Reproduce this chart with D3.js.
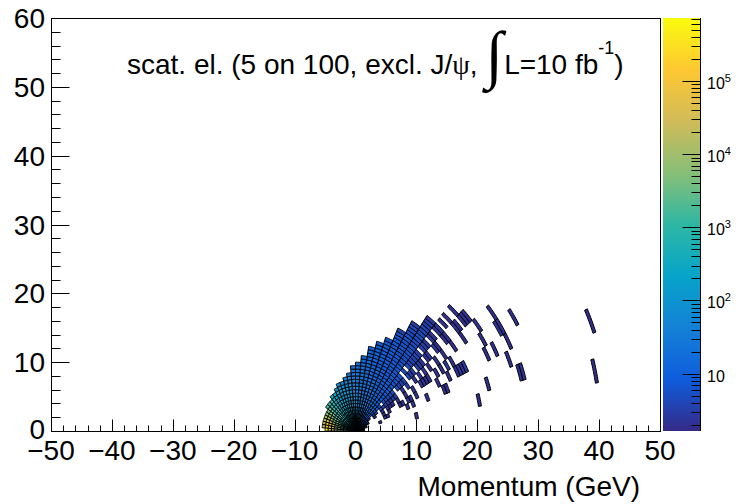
<!DOCTYPE html>
<html><head><meta charset="utf-8">
<script src="https://cdn.jsdelivr.net/npm/d3@7"></script>
<style>body{margin:0;background:#fff} svg{display:block}</style>
</head><body>
<svg id="chart" width="739" height="504"></svg>
<script>
// Scattered-electron momentum in polar form: bins of 5 deg in angle and 0.5 GeV in momentum
const thetaBinDeg = 5;
const pBinGeV = 0.5;
const _ = null;

// log10(counts) per momentum bin (index 0 = 0-0.5 GeV), one array per angle bin (index 0 = 0-5 deg)
const logCounts = [
  [1.2,1.0,0.8],
  [1.3,1.0,0.8],
  [1.3,1.1,0.9],
  [1.4,1.1,0.9,0.5],
  [1.4,1.2,1.0,0.6],
  [1.5,1.3,1.1,0.7,0.4],
  [1.6,1.4,1.2,0.8,0.5,_,_,0.4,_,_,0.4,_,0.4,0.35,0.3],
  [1.7,1.5,1.3,1.0,0.7,0.5,_,0.5,0.5,_,0.6,0.5,0.5,0.6,0.4,0.5,0.5,_,_,0.4,_,0.5,_,_,0.4,_,0.4,_,0.4,_,0.3],
  [1.8,1.6,1.4,1.2,0.9,0.7,0.8,0.9,0.9,0.8,0.8,_,0.8,0.7,0.8,0.7,0.7,_,0.7,0.6,0.6,0.6,_,0.6,0.5,0.5,_,0.5,0.5,0.4,_,0.4,0.4,_,_,0.4,0.3,_,_,0.3,0.3,_,_,_,0.3,0.3,_,0.3,0.3,0.3],
  [1.9,1.7,1.5,1.3,1.1,1.1,1.2,1.1,1.1,1.0,1.0,1.0,0.9,0.9,0.9,0.9,0.9,0.8,0.8,0.8,0.8,0.8,_,0.7,_,0.7,0.6,0.6,0.6,0.6,0.5,_,0.5,0.5,0.4,_,0.4,0.4,_,0.3,0.4,_,0.3,_,0.3,_,_,0.3],
  [2.0,1.8,1.6,1.5,1.4,1.3,1.3,1.2,1.2,1.2,1.1,1.1,1.1,1.0,1.0,1.0,1.0,1.0,0.9,0.9,0.9,0.9,0.9,0.9,0.8,0.8,0.8,0.8,0.8,0.8,0.8,0.7,0.7,0.7,0.7,0.7,0.6,0.6,0.5,0.5,0.4],
  [2.1,1.9,1.7,1.6,1.5,1.4,1.3,1.3,1.2,1.2,1.2,1.1,1.1,1.1,1.0,1.0,1.0,1.0,1.0,0.9,0.9,0.9,0.9,0.9,0.9,0.9,0.8,0.8,0.8,0.8,0.8,0.8,0.8,0.7,0.7,0.6,0.5],
  [2.2,2.0,1.8,1.7,1.6,1.5,1.4,1.4,1.3,1.3,1.2,1.2,1.2,1.1,1.1,1.1,1.1,1.0,1.0,1.0,1.0,1.0,1.0,0.9,0.9,0.9,0.9,0.9,0.9,0.9,0.8,0.8,0.6],
  [2.3,2.1,1.9,1.8,1.7,1.6,1.5,1.5,1.4,1.4,1.3,1.3,1.3,1.2,1.2,1.2,1.1,1.1,1.1,1.1,1.0,1.0,1.0,1.0,1.0,1.0,0.9,0.9,0.8],
  [2.4,2.2,2.0,1.9,1.8,1.7,1.6,1.6,1.5,1.5,1.4,1.4,1.3,1.3,1.3,1.2,1.2,1.2,1.2,1.1,1.1,1.1,1.1,1.1,1.0,1.0,0.9],
  [2.5,2.3,2.1,2.0,1.9,1.8,1.7,1.6,1.6,1.5,1.5,1.4,1.4,1.4,1.3,1.3,1.3,1.2,1.2,1.2,1.2,1.1,1.1,1.1,1.0],
  [2.6,2.4,2.2,2.1,2.0,1.9,1.8,1.7,1.7,1.6,1.6,1.5,1.5,1.5,1.4,1.4,1.4,1.3,1.3,1.3,1.2,1.1],
  [2.6,2.5,2.3,2.2,2.1,2.0,1.9,1.8,1.8,1.7,1.7,1.6,1.6,1.5,1.5,1.5,1.4,1.4,1.3,1.2],
  [2.7,2.6,2.4,2.3,2.2,2.1,2.0,1.9,1.9,1.8,1.8,1.7,1.7,1.6,1.6,1.5,1.5,1.4,1.3],
  [2.7,2.6,2.5,2.4,2.3,2.2,2.1,2.1,2.0,2.0,1.9,1.9,1.8,1.8,1.7,1.6,1.5],
  [2.6,2.5,2.4,2.3,2.3,2.2,2.2,2.1,2.1,2.0,2.0,1.9,1.9,1.8,1.8,1.7],
  [2.6,2.5,2.4,2.4,2.3,2.3,2.2,2.2,2.1,2.1,2.0,2.0,2.0,1.9,1.8],
  [2.6,2.5,2.5,2.4,2.4,2.3,2.3,2.2,2.2,2.2,2.1,2.1,2.1,2.0,1.9],
  [2.6,2.5,2.5,2.4,2.4,2.4,2.3,2.3,2.3,2.3,2.2,2.2,2.2,2.1],
  [2.6,2.6,2.5,2.5,2.5,2.4,2.4,2.4,2.4,2.4,2.4,2.4,2.3],
  [2.6,2.6,2.6,2.5,2.5,2.5,2.5,2.5,2.6,2.6,2.6,2.6,2.5],
  [2.6,2.6,2.6,2.6,2.6,2.6,2.7,2.7,2.7,2.8,2.8,2.7],
  [2.6,2.6,2.6,2.6,2.7,2.7,2.8,2.8,2.9,3.0,3.1,3.0],
  [2.6,2.6,2.6,2.7,2.7,2.8,2.9,3.0,3.1,3.3,3.4,3.2],
  [2.6,2.6,2.7,2.7,2.8,2.9,3.0,3.2,3.4,3.6,3.6],
  [2.7,2.7,2.7,2.8,2.9,3.0,3.2,3.4,3.7,4.0,3.8],
  [2.7,2.7,2.8,2.9,3.0,3.2,3.4,3.7,4.0,4.3,4.0],
  [2.8,2.8,2.9,3.0,3.2,3.4,3.6,3.9,4.3,4.7,4.2],
  [2.8,2.8,2.9,3.1,3.3,3.5,3.8,4.2,4.7,5.1,4.3],
  [2.9,2.9,3.0,3.2,3.4,3.7,4.0,4.5,5.0,5.5,4.3],
  [3.0,3.0,3.1,3.3,3.5,3.8,4.2,4.7,5.3,5.86]
];

// isolated bins away from the dense band: [angle bin, momentum bin, log10(counts)]
const sparseBins = [
  [2,20,0.3],[2,41,0.3],[2,80,0.3],
  [3,8,0.3],[3,45,0.3],[3,56,0.3],[3,57,0.35],
  [4,10,0.4],[4,11,0.3],[4,18,0.3],[4,20,0.35],[4,25,0.35],[4,31,0.3],[4,32,0.3],[4,54,0.3],[4,83,0.3],
  [5,10,0.4],[5,12,0.3],[5,16,0.3],[5,17,0.35],[5,19,0.4],[5,20,0.3],[5,22,0.35],[5,30,0.3],[5,34,0.3],[5,37,0.3],[5,38,0.4],[5,39,0.3],[5,40,0.45],[5,48,0.3],[5,51,0.35],[5,56,0.3],
  [6,16,0.35],[6,19,0.3],[6,22,0.3],[6,25,0.4],[6,26,0.35],[6,27,0.3],[6,28,0.3],[6,31,0.35],[6,33,0.3],[6,35,0.4],[6,37,0.3],[6,49,0.3],[6,55,0.35],[6,56,0.3],[6,61,0.3],
  [7,33,0.35],[7,36,0.3],[7,40,0.3],[7,44,0.3],[7,50,0.3],[7,56,0.3]
];

const xTickValues = d3.range(-50, 51, 10);
const xMinorValues = d3.range(-50, 51, 2);
const yTickValues = d3.range(0, 61, 10);
const yMinorValues = d3.range(0, 61, 2);
const zDomain = [1.64, 7.3e5];
const zDecades = [1, 2, 3, 4, 5];

// kBird palette stops
const birdStops = [0, 0.125, 0.25, 0.375, 0.5, 0.625, 0.75, 0.875, 1];
const birdColors = [
  [0.2082,0.1664,0.5293],[0.0592,0.3599,0.8684],[0.0780,0.5041,0.8385],
  [0.0232,0.6419,0.7914],[0.1802,0.7178,0.6425],[0.5301,0.7492,0.4662],
  [0.8186,0.7328,0.3499],[0.9956,0.7862,0.1968],[0.9764,0.9832,0.0539]
].map(c => d3.rgb(c[0]*255, c[1]*255, c[2]*255).formatHex());

(function draw() {
  const svg = d3.select('#chart');
  const W = 739, H = 504;
  const fl = 51, fr = 660, ft = 18, fb = 431;
  const x = d3.scaleLinear().domain([-50, 50]).range([fl, fr]);
  const y = d3.scaleLinear().domain([0, 60]).range([fb, ft]);
  const zPos = d3.scaleLog().domain(zDomain).range([fb, ft]);
  const tOf = d3.scaleLinear().domain(zDomain.map(Math.log10)).range([0, 1]).clamp(true);
  const birdScale = d3.scaleLinear().domain(birdStops).range(birdColors).interpolate(d3.interpolateRgb);
  const colorOf = lv => birdScale(tOf(lv));

  svg.append('rect').attr('width', W).attr('height', H).attr('fill', '#fff');

  const cells = [];
  logCounts.forEach((row, j) => row.forEach((v, i) => { if (v !== null) cells.push({j, i, v}); }));
  sparseBins.forEach(([j, i, v]) => cells.push({j, i, v}));

  function cellPath(d) {
    const a0 = d.j * thetaBinDeg * Math.PI / 180, a1 = (d.j + 1) * thetaBinDeg * Math.PI / 180;
    const r0 = d.i * pBinGeV, r1 = (d.i + 1) * pBinGeV;
    const n = 8, pts = [];
    for (let k = 0; k <= n; k++) { const a = a0 + (a1 - a0) * k / n; pts.push([x(r1 * Math.cos(a)), y(r1 * Math.sin(a))]); }
    for (let k = n; k >= 0; k--) { const a = a0 + (a1 - a0) * k / n; pts.push([x(r0 * Math.cos(a)), y(r0 * Math.sin(a))]); }
    return d3.line()(pts) + 'Z';
  }

  svg.append('g').selectAll('path').data(cells).join('path')
    .attr('d', cellPath)
    .attr('fill', d => colorOf(d.v))
    .attr('stroke', '#000')
    .attr('stroke-width', 1);

  // frame
  svg.append('rect').attr('x', fl + 0.5).attr('y', ft + 0.5)
    .attr('width', fr - fl).attr('height', fb - ft)
    .attr('fill', 'none').attr('stroke', '#000').attr('stroke-width', 1);

  const font = "'Liberation Sans', Arial, Helvetica, sans-serif";
  const axes = svg.append('g').attr('stroke', '#000').attr('stroke-width', 1);

  // x axis ticks, pointing up into the frame
  xMinorValues.forEach(v => {
    const major = v % 10 === 0;
    const px = Math.round(x(v)) + 0.5;
    axes.append('line').attr('x1', px).attr('x2', px)
      .attr('y1', fb + 0.5).attr('y2', fb + 0.5 - (major ? 12 : 6));
  });
  // y axis ticks, pointing right into the frame
  yMinorValues.forEach(v => {
    const major = v % 10 === 0;
    const py = Math.round(y(v)) + 0.5;
    axes.append('line').attr('y1', py).attr('y2', py)
      .attr('x1', fl + 0.5).attr('x2', fl + 0.5 + (major ? 18 : 9));
  });

  const labels = svg.append('g').attr('font-family', font).attr('font-size', 28).attr('fill', '#000');
  xTickValues.forEach(v => {
    labels.append('text').attr('x', x(v)).attr('y', 460).attr('text-anchor', 'middle')
      .text(v < 0 ? '\u2212' + Math.abs(v) : String(v));
  });
  yTickValues.forEach(v => {
    labels.append('text').attr('x', 45).attr('y', y(v) + (v === 0 ? 8 : 10)).attr('text-anchor', 'end').text(String(v));
  });
  labels.append('text').attr('x', 640).attr('y', 496).attr('text-anchor', 'end').text('Momentum (GeV)');

  // colour bar
  const cbL = 663, cbR = 700;
  const grad = svg.append('defs').append('linearGradient').attr('id', 'bird')
    .attr('x1', 0).attr('y1', 1).attr('x2', 0).attr('y2', 0);
  birdStops.forEach((s, k) => grad.append('stop').attr('offset', s).attr('stop-color', birdColors[k]));
  svg.append('rect').attr('x', cbL).attr('y', ft).attr('width', cbR - cbL).attr('height', fb - ft)
    .attr('fill', 'url(#bird)');
  const cbAxis = svg.append('g').attr('stroke', '#000').attr('stroke-width', 1);
  cbAxis.append('line').attr('x1', cbR + 0.5).attr('x2', cbR + 0.5).attr('y1', ft).attr('y2', fb);
  for (let d = 0; d <= 5; d++) {
    for (let m = 1; m <= 9; m++) {
      const v = m * Math.pow(10, d);
      if (v < zDomain[0] || v > zDomain[1]) continue;
      const py = Math.round(zPos(v)) + 0.5;
      cbAxis.append('line').attr('x1', cbR + 0.5).attr('x2', cbR + 0.5 - (m === 1 ? 18 : 9))
        .attr('y1', py).attr('y2', py);
    }
  }
  const cbLabels = svg.append('g').attr('font-family', font).attr('font-size', 16).attr('fill', '#000');
  zDecades.forEach(d => {
    const t = cbLabels.append('text').attr('x', 707).attr('y', zPos(Math.pow(10, d)) + 8);
    t.append('tspan').text('10');
    if (d > 1) t.append('tspan').attr('dy', -7).attr('font-size', 11).text(String(d));
  });

  // title
  const title = svg.append('g').attr('font-family', font).attr('fill', '#000');
  let cx = 127;
  const base = 74;
  function piece(str, opts = {}) {
    const t = title.append('text').attr('x', cx).attr('y', opts.y || base)
      .attr('font-size', opts.size || 28)
      .attr('font-family', opts.family || font).text(str);
    cx += t.node().getComputedTextLength() + (opts.gap || 0);
    return t;
  }
  piece('scat. el. (5 on 100, excl. J/');
  piece('\u03C8', {family: "'Liberation Serif', 'Times New Roman', serif"});
  piece(',', {gap: 8});
  piece('\u222B', {family: "'Liberation Serif', 'Times New Roman', serif", size: 64, y: base + 2, gap: 1});
  piece('L=10 fb');
  piece('-1', {size: 18, y: base - 20});
  piece(')');
})();
</script>
</body></html>
